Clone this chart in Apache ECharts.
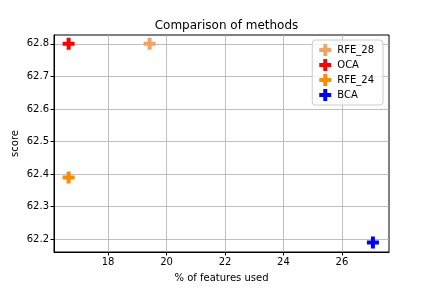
<html>
<head>
<meta charset="utf-8" />
<title>Comparison of methods</title>
<script src="https://cdn.jsdelivr.net/npm/echarts@6/dist/echarts.min.js"></script>
</head>
<body style="margin:0">
<div id="chart" style="width:432px;height:288px"></div>
<script type="text/javascript">
// data
var methods = ['RFE_28', 'OCA', 'RFE_24', 'BCA'];
var colors = ['#f4a460', '#ff0000', '#ff8c00', '#0000ff'];
var featPct = [19.42, 16.65, 16.65, 27.06];
var scores = [62.8, 62.8, 62.39, 62.19];
var xTicks = [18, 20, 22, 24, 26];
var yTicks = [62.2, 62.3, 62.4, 62.5, 62.6, 62.7, 62.8];

var plus = 'path://M1,0H2V1H3V2H2V3H1V2H0V1H1Z';
var font = 'DejaVu Sans';

var chart = echarts.init(document.getElementById('chart'));

var series = methods.map(function (m, i) {
  return {
    name: m,
    type: 'scatter',
    symbol: plus,
    symbolSize: 12,
    itemStyle: { color: colors[i], opacity: 1 },
    data: [[featPct[i], scores[i]]]
  };
});

var option = {
  animation: false,
  title: {
    text: 'Comparison of methods',
    left: 221.5,
    top: 15,
    textAlign: 'center',
    textStyle: { fontFamily: font, fontSize: 12, fontWeight: 'normal', color: '#000' }
  },
  legend: {
    orient: 'vertical',
    right: 49,
    top: 40,
    itemWidth: 14,
    itemHeight: 12,
    itemGap: 3,
    padding: [4, 9, 4, 7],
    backgroundColor: 'rgba(255,255,255,0.8)',
    borderColor: '#cccccc',
    borderWidth: 1,
    borderRadius: 3,
    textStyle: { fontFamily: font, fontSize: 10, color: '#000' },
    data: methods.map(function (m) { return { name: m, icon: plus }; })
  },
  // y axis title placed by hand, the axis name gets pushed out too far
  graphic: [{
    type: 'text',
    x: 15,
    y: 143.5,
    rotation: Math.PI / 2,
    style: {
      text: 'score',
      font: '10px "DejaVu Sans"',
      fill: '#000',
      align: 'center',
      verticalAlign: 'middle'
    }
  }],
  grid: {
    left: 54, right: 43, top: 35, bottom: 36,
    outerBoundsMode: 'none',
    containLabel: false,
    show: true, borderColor: '#000', borderWidth: 1
  },
  xAxis: {
    type: 'value',
    min: 16.15,
    max: 27.61,
    name: '% of features used',
    nameLocation: 'middle',
    nameGap: 21,
    nameTextStyle: { fontFamily: font, fontSize: 10, color: '#000' },
    axisLine: { show: true, lineStyle: { color: '#000', width: 1 } },
    axisTick: { show: true, length: 3.5, customValues: xTicks, lineStyle: { color: '#000' } },
    axisLabel: { customValues: xTicks, fontFamily: font, fontSize: 10, color: '#000', margin: 5 },
    splitLine: { show: true, lineStyle: { color: '#b0b0b0', width: 0.8 } }
  },
  yAxis: {
    type: 'value',
    min: 62.161,
    max: 62.827,
    axisLine: { show: true, lineStyle: { color: '#000', width: 1 } },
    axisTick: { show: true, length: 3.5, customValues: yTicks, lineStyle: { color: '#000' } },
    axisLabel: {
      customValues: yTicks, fontFamily: font, fontSize: 10, color: '#000', margin: 5,
      formatter: function (v) { return v.toFixed(1); }
    },
    splitLine: { show: true, lineStyle: { color: '#b0b0b0', width: 0.8 } }
  },
  series: series
};

chart.setOption(option);
</script>
</body>
</html>
